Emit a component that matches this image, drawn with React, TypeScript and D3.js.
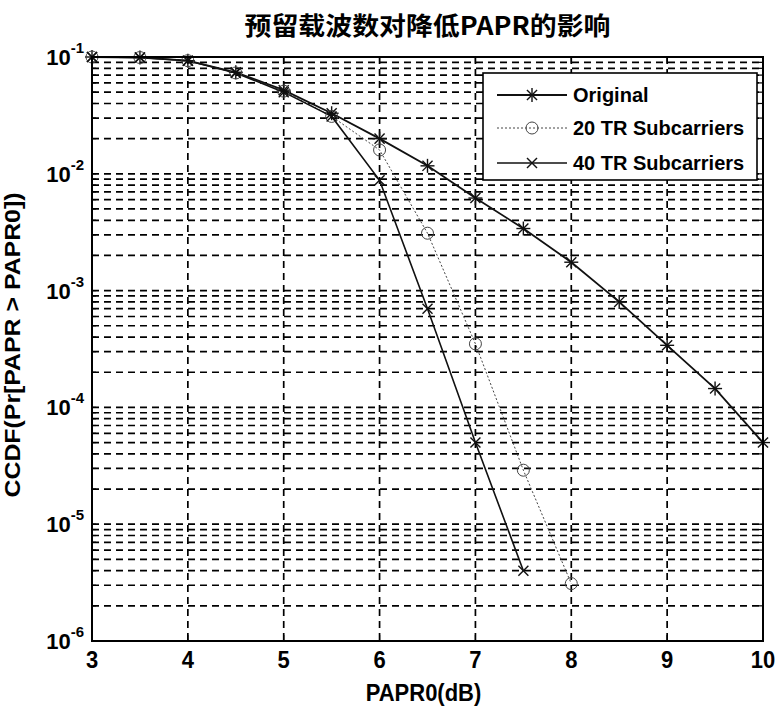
import React from "react";
import * as d3 from "d3";

const W = 776;
const H = 706;
const margin = { left: 92, right: 13, top: 57, bottom: 65 };

const titleText = "预留载波数对降低PAPR的影响";
const xLabel = "PAPR0(dB)";
const yLabel = "CCDF(Pr[PAPR > PAPR0])";

const xTicks = [3, 4, 5, 6, 7, 8, 9, 10];
const yExponents = [-1, -2, -3, -4, -5, -6];

const xOriginal = [3, 3.5, 4, 4.5, 5, 5.5, 6, 6.5, 7, 7.5, 8, 8.5, 9, 9.5, 10];
const yOriginal = [0.1, 0.099, 0.093, 0.074, 0.052, 0.033, 0.020, 0.0117, 0.0062, 0.0034, 0.00175, 0.0008, 0.00034, 0.000145, 0.00005];

const x20 = [3, 3.5, 4, 4.5, 5, 5.5, 6, 6.5, 7, 7.5, 8];
const y20 = [0.1, 0.099, 0.093, 0.073, 0.051, 0.031, 0.016, 0.0031, 0.00035, 0.000029, 0.0000031];

const x40 = [3, 3.5, 4, 4.5, 5, 5.5, 6, 6.5, 7, 7.5];
const y40 = [0.1, 0.099, 0.093, 0.073, 0.05, 0.031, 0.0088, 0.0007, 0.00005, 0.000004];

const seriesNames = ["Original", "20 TR Subcarriers", "40 TR Subcarriers"];

type Marker = "star" | "circle" | "x";

function MarkerShape({ type, cx, cy, color, width }: { type: Marker; cx: number; cy: number; color: string; width: number }) {
  if (type === "circle") {
    return <circle cx={cx} cy={cy} r={6} fill="none" stroke={color} strokeWidth={width} />;
  }
  if (type === "x") {
    const r = 5;
    return (
      <g stroke={color} strokeWidth={width}>
        <line x1={cx - r} y1={cy - r} x2={cx + r} y2={cy + r} />
        <line x1={cx - r} y1={cy + r} x2={cx + r} y2={cy - r} />
      </g>
    );
  }
  const r = 7;
  const d = r * 0.72;
  return (
    <g stroke={color} strokeWidth={width}>
      <line x1={cx - r} y1={cy} x2={cx + r} y2={cy} />
      <line x1={cx} y1={cy - r} x2={cx} y2={cy + r} />
      <line x1={cx - d} y1={cy - d} x2={cx + d} y2={cy + d} />
      <line x1={cx - d} y1={cy + d} x2={cx + d} y2={cy - d} />
    </g>
  );
}

export default function App() {
  const x = d3.scaleLinear().domain([3, 10]).range([margin.left, W - margin.right]);
  const y = d3.scaleLog().domain([1e-6, 1e-1]).range([H - margin.bottom, margin.top]);
  const x0 = margin.left;
  const x1 = W - margin.right;
  const y0 = margin.top;
  const y1 = H - margin.bottom;

  const minorVals: number[] = [];
  for (let e = -6; e < -1; e++) {
    for (let m = 2; m <= 9; m++) minorVals.push(m * Math.pow(10, e));
  }
  const majorVals = yExponents.map((e) => Math.pow(10, e));
  const gridY = [...minorVals, ...majorVals].filter((v) => v > 1e-6 * 1.0001 && v < 0.1 * 0.9999);

  const line = d3
    .line<[number, number]>()
    .x((d) => x(d[0]))
    .y((d) => y(d[1]));

  const series = [
    { name: seriesNames[0], xs: xOriginal, ys: yOriginal, marker: "star" as Marker, dash: "none", width: 1.8, color: "#111" },
    { name: seriesNames[1], xs: x20, ys: y20, marker: "circle" as Marker, dash: "2,2", width: 1, color: "#444" },
    { name: seriesNames[2], xs: x40, ys: y40, marker: "x" as Marker, dash: "none", width: 1.6, color: "#111" },
  ];

  const font = "'Liberation Sans', Arial, 'Noto Sans CJK SC', sans-serif";

  const legend = { x: 483, y: 73, w: 274, h: 107 };
  const legendRows = [95, 128, 163];

  return (
    <svg width={W} height={H} style={{ position: "absolute", left: 0, top: 0, background: "#fff" }} fontFamily={font}>
      <rect x={0} y={0} width={W} height={H} fill="#fff" />
      {/* grid */}
      <g stroke="#000" strokeWidth={1.7} strokeDasharray="7,5">
        {gridY.map((v, i) => (
          <line key={"gy" + i} x1={x0} x2={x1} y1={y(v)} y2={y(v)} />
        ))}
        {xTicks.slice(1, -1).map((t) => (
          <line key={"gx" + t} x1={x(t)} x2={x(t)} y1={y0} y2={y1} />
        ))}
      </g>
      {/* tick marks */}
      <g stroke="#000" strokeWidth={1.2}>
        {xTicks.map((t) => (
          <g key={"tx" + t}>
            <line x1={x(t)} x2={x(t)} y1={y1} y2={y1 - 6} />
            <line x1={x(t)} x2={x(t)} y1={y0} y2={y0 + 6} />
          </g>
        ))}
        {gridY.map((v, i) => (
          <g key={"ty" + i}>
            <line x1={x0} x2={x0 + 4} y1={y(v)} y2={y(v)} />
            <line x1={x1} x2={x1 - 4} y1={y(v)} y2={y(v)} />
          </g>
        ))}
      </g>
      {/* series lines */}
      {series.map((s) => (
        <path
          key={s.name}
          d={line(s.xs.map((v, i) => [v, s.ys[i]] as [number, number])) || ""}
          fill="none"
          stroke={s.color}
          strokeWidth={s.width}
          strokeDasharray={s.dash}
        />
      ))}
      {series.map((s) => (
        <g key={s.name + "m"}>
          {s.xs.map((v, i) => (
            <MarkerShape key={i} type={s.marker} cx={x(v)} cy={y(s.ys[i])} color={s.color} width={s.marker === "circle" ? 1 : 1.4} />
          ))}
        </g>
      ))}
      {/* axes box */}
      <rect x={x0} y={y0} width={x1 - x0} height={y1 - y0} fill="none" stroke="#000" strokeWidth={2} />
      {/* x tick labels */}
      <g fontSize={22} fontWeight="bold" textAnchor="middle" fill="#000">
        {xTicks.map((t) => (
          <text key={"xl" + t} transform={`translate(${x(t)}, ${y1 + 27}) scale(1, 1.12)`}>
            {t}
          </text>
        ))}
      </g>
      {/* y tick labels */}
      <g fontWeight="bold" fill="#000">
        {yExponents.map((e) => (
          <text key={"yl" + e} x={x0 - 8} y={y(Math.pow(10, e)) + 8} textAnchor="end" fontSize={22}>
            10
            <tspan fontSize={15} dy={-12}>
              {e}
            </tspan>
          </text>
        ))}
      </g>
      {/* axis labels */}
      <text transform={`translate(${(x0 + x1) / 2 - 4}, 701) scale(1, 1.12)`} textAnchor="middle" fontSize={22} fontWeight="bold">
        {xLabel}
      </text>
      <text
        transform={`translate(20, ${(y0 + y1) / 2 - 4}) rotate(-90)`}
        textAnchor="middle"
        fontSize={22}
        fontWeight="bold"
        textLength={305}
        lengthAdjust="spacingAndGlyphs"
      >
        {yLabel}
      </text>
      {/* title */}
      <text
        x={(x0 + x1) / 2}
        y={35}
        textAnchor="middle"
        fontSize={25}
        fontWeight="bold"
        textLength={366}
        lengthAdjust="spacingAndGlyphs"
        fontFamily="'Noto Sans CJK SC', 'Liberation Sans', sans-serif"
      >
        {titleText}
      </text>
      {/* legend */}
      <rect x={legend.x} y={legend.y} width={legend.w} height={legend.h} fill="#fff" stroke="#000" strokeWidth={1.6} />
      {series.map((s, i) => (
        <g key={s.name + "leg"}>
          <line x1={497} x2={567} y1={legendRows[i]} y2={legendRows[i]} stroke={s.color} strokeWidth={s.width} strokeDasharray={s.dash} />
          <MarkerShape type={s.marker} cx={532} cy={legendRows[i]} color={s.color} width={s.marker === "circle" ? 1 : 1.4} />
          <text x={573} y={legendRows[i] + 7} fontSize={20} fontWeight="bold">
            {s.name}
          </text>
        </g>
      ))}
    </svg>
  );
}
